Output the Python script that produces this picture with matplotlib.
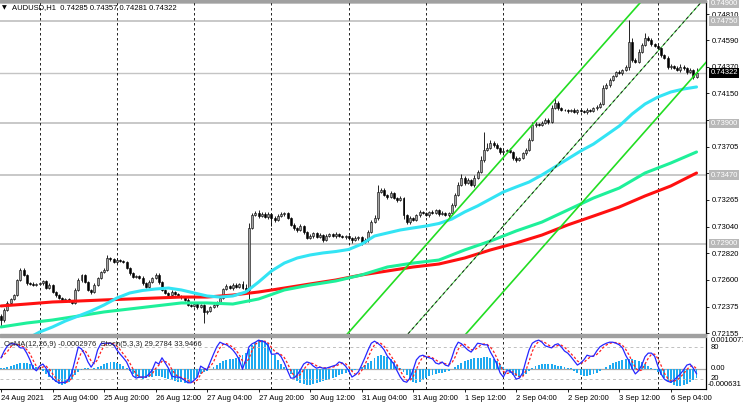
import matplotlib
matplotlib.use('Agg')
import matplotlib.pyplot as plt
import numpy as np
import pandas as pd
from matplotlib.patches import Rectangle
from matplotlib.transforms import blended_transform_factory
from matplotlib import font_manager as fm

# ---------------- data (prices in 1e-5 units) ----------------
first_open = 72300
closes = [
    72264, 72347, 72406, 72439, 72472, 72597, 72680, 72639, 72572, 72564,
    72555, 72564, 72572, 72589, 72530, 72555, 72497, 72472, 72447, 72431,
    72439, 72422, 72406, 72514, 72597, 72639, 72580, 72514, 72497, 72555,
    72614, 72663, 72680, 72780, 72772, 72747, 72763, 72755, 72747, 72697,
    72655, 72622, 72630, 72614, 72572, 72539, 72580, 72614, 72639, 72580,
    72514, 72489, 72472, 72497, 72480, 72464, 72455, 72431, 72389, 72381,
    72397, 72372, 72389, 72331, 72339, 72372, 72389, 72406, 72447, 72522,
    72547, 72530, 72555, 72539, 72564, 72530, 72514, 73030, 73138, 73154,
    73129, 73146, 73121, 73146, 73113, 73096, 73129, 73146, 73154, 73113,
    73055, 73030, 73013, 73046, 72996, 72946, 72963, 72988, 72955, 72971,
    72930, 72963, 72980, 72963, 72980, 72963, 72955, 72963, 72946, 72930,
    72946, 72955, 72913, 72930, 72996, 73079, 73113, 73329, 73346, 73304,
    73287, 73321, 73279, 73263, 73279, 73138, 73079, 73113, 73096, 73138,
    73163, 73154, 73138, 73163, 73154, 73179, 73146, 73154, 73138, 73154,
    73221, 73304, 73387, 73446, 73404, 73429, 73387, 73446, 73495, 73595,
    73679, 73695, 73737, 73720, 73695, 73662, 73670, 73679, 73662, 73612,
    73595, 73612, 73654, 73679, 73762, 73887, 73895, 73887, 73903, 73928,
    73911, 74028, 74070, 74028, 74011, 74011, 74003, 74011, 73995, 74011,
    74003, 73995, 74011, 74003, 74028, 74036, 74061, 74194, 74219, 74261,
    74294, 74327, 74319, 74344, 74369, 74577, 74427, 74411, 74494, 74552,
    74610, 74594, 74560, 74544, 74527, 74469, 74444, 74369, 74377, 74361,
    74344, 74369, 74361, 74327, 74344, 74285, 74322,
]
wick_up = [
    10, 20, 15, 10, 12, 8, 15, 20, 10, 12, 15, 10, 8, 12, 10, 15, 10, 8, 10, 12,
    10, 8, 10, 15, 20, 10, 8, 12, 10, 15, 12, 10, 15, 25, 12, 10, 15, 10, 12, 8,
    10, 12, 8, 10, 15, 12, 20, 10, 15, 12, 10, 8, 10, 15, 12, 10, 8, 10, 12, 10,
    15, 10, 12, 10, 8, 10, 12, 15, 20, 12, 15, 10, 20, 15, 12, 25, 30, 40, 20, 15,
    25, 15, 20, 18, 10, 15, 20, 15, 12, 10, 8, 12, 10, 15, 10, 12, 15, 10, 12, 15,
    10, 15, 12, 10, 15, 12, 10, 8, 12, 10, 15, 10, 12, 20, 15, 20, 25, 58, 20, 15,
    12, 15, 10, 12, 20, 10, 12, 15, 10, 12, 15, 10, 12, 10, 15, 12, 10, 15, 12, 10,
    15, 20, 25, 30, 15, 20, 12, 25, 20, 30, 150, 40, 25, 20, 15, 12, 15, 10, 12, 10,
    15, 12, 10, 15, 20, 25, 15, 12, 18, 15, 20, 25, 40, 15, 12, 10, 12, 10, 15, 12,
    10, 12, 15, 10, 12, 15, 20, 25, 20, 15, 12, 10, 15, 12, 20, 185, 30, 20, 25, 20,
    40, 20, 15, 12, 15, 10, 12, 15, 20, 12, 15, 25, 15, 12, 20, 10, 35,
]
wick_dn = [
    60, 15, 10, 12, 10, 8, 10, 12, 15, 10, 8, 12, 10, 15, 10, 12, 10, 15, 10, 12,
    15, 10, 12, 10, 8, 15, 12, 10, 15, 10, 12, 8, 10, 12, 15, 10, 12, 8, 10, 12,
    15, 10, 12, 10, 15, 12, 10, 8, 12, 15, 10, 12, 10, 15, 12, 10, 15, 12, 10, 12,
    10, 15, 12, 90, 15, 12, 10, 15, 12, 10, 12, 10, 15, 12, 10, 12, 15, 100, 12, 10,
    15, 10, 12, 15, 65, 15, 10, 12, 15, 10, 12, 15, 20, 12, 15, 10, 12, 15, 10, 12,
    15, 10, 12, 10, 15, 12, 10, 15, 12, 25, 10, 15, 25, 12, 15, 10, 12, 15, 12, 10,
    15, 12, 10, 15, 12, 30, 20, 15, 12, 10, 15, 12, 10, 15, 12, 10, 15, 12, 10, 15,
    12, 15, 10, 12, 15, 10, 12, 15, 10, 12, 15, 12, 10, 15, 12, 20, 15, 12, 10, 15,
    20, 12, 10, 15, 12, 10, 15, 12, 10, 12, 15, 10, 12, 15, 12, 10, 15, 10, 12, 15,
    12, 10, 15, 12, 10, 15, 12, 10, 12, 15, 10, 12, 10, 15, 12, 25, 15, 12, 10, 12,
    10, 12, 15, 12, 10, 15, 12, 20, 15, 12, 10, 15, 20, 15, 12, 15, 4,
]

# fast moving average (cyan), sampled every 4 bars (1e-5 units)
cyan_idx = list(range(0, 217, 4))
ma_cyan = [71998, 72056, 72106, 72164, 72206, 72256, 72297, 72339, 72389, 72447,
           72489, 72510, 72522, 72530, 72514, 72489, 72464, 72455, 72464, 72497,
           72580, 72672, 72738, 72780, 72805, 72822, 72834, 72851, 72896, 72963,
           72988, 73013, 73030, 73046, 73067, 73104, 73163, 73213, 73271, 73329,
           73371, 73412, 73471, 73537, 73604, 73670, 73728, 73803, 73878, 73978,
           74061, 74119, 74161, 74186, 74203]
# slower moving averages, sampled every 8 bars (1e-5 units)
ma_idx = list(range(0, 217, 8))
ma_green = [72206, 72239, 72264, 72297, 72331, 72356, 72381, 72406, 72406, 72397,
            72439, 72514, 72555, 72589, 72639, 72705, 72738, 72763, 72847, 72921,
            73005, 73079, 73179, 73279, 73362, 73487, 73570, 73662]
ma_red = [72381, 72397, 72414, 72422, 72431, 72439, 72447, 72455, 72455, 72472,
          72497, 72530, 72564, 72597, 72639, 72672, 72705, 72730, 72780, 72847,
          72905, 72971, 73055, 73129, 73204, 73296, 73379, 73487]

# regression channel end points (bar index, price 1e-5)
chan_idx = [100, 219]
chan_upper = [71919, 75525]
chan_mid = [71349, 74955]
chan_lower = [70803, 74409]

levels = [0.74900, 0.74750, 0.73900, 0.73470, 0.72900]
last_price = 0.74322
price_ticks = [0.74810, 0.74590, 0.74370, 0.74150, 0.73930, 0.73705, 0.73485,
               0.73265, 0.73040, 0.72820, 0.72600, 0.72375, 0.72155]
hidden_ticks = [0.73930, 0.73485]   # covered by level boxes in the reference

# OsMA histogram (1e-5 units)
osma = [3, 3, 6, 9, 13, 16, 19, 19, 19, 16, 13, 6, 0,
        -6, -16, -25, -35, -41, -47, -50, -47, -41, -32, -19, -9,
        -3, 3, 3, 0, 3, 6, 9, 16, 19, 22, 22, 19, 16, 9, 3,
        -6, -16, -25, -28, -32, -28, -25, -25,
        -22, -22, -25, -28, -32, -35, -38, -41, -41, -44, -44, -41, -35,
        -25, -16, -9, -6, 0,
        6, 13, 19, 25, 28, 32, 32, 35, 38, 44, 50, 63,
        76, 85, 91, 91, 88, 82, 63, 44, 28, 16, 6, -3,
        -16, -28, -38, -44, -47, -50, -50,
        -47, -44, -41, -38, -35, -32, -28, -25,
        -19, -16, -13, -9, -6, -3, 0,
        6, 13, 19, 25, 35, 41, 44, 41, 38, 32, 22, 13, 3,
        -9, -19, -32, -41, -44, -41, -35,
        -28, -22, -19, -16, -13, -13, -9, -6,
        0, 6, 13, 19, 25, 28, 32, 35, 35, 35, 38, 38, 35, 32, 25,
        16, 6, -3, -13, -19, -22, -25, -22, -16,
        -6, 3, 9, 13, 16, 16, 16, 16, 13, 9, 9, 6, 3, 3,
        -6, -13, -19, -22, -22, -19, -16, -13, -6, 0, 6, 13, 19,
        22, 25, 28, 32, 32, 32, 28, 25, 22, 16, 9, 3,
        -3, -9,
        -19, -28, -38, -44, -50, -54, -54, -50, -47, -41, -35, -29.76]

# Stochastic main line
stoch = [60, 73, 83, 87, 87, 85, 79, 79, 69, 56,
         40, 35, 44, 48, 40, 27, 21, 15, 12, 12,
         13, 19, 31, 56, 81, 77, 67, 52, 42, 52,
         75, 87, 88, 88, 88, 85, 75, 67, 60, 52,
         38, 25, 21, 23, 23, 23, 29, 37, 52, 48,
         60, 50, 40, 25, 23, 23, 21, 17, 12, 12,
         17, 23, 44, 40, 37, 52, 67, 81, 90, 87,
         85, 81, 75, 67, 56, 38, 56, 81, 87, 90,
         94, 92, 90, 83, 67, 67, 69, 62, 50, 35,
         21, 21, 27, 37, 48, 52, 50, 44, 40, 42,
         40, 40, 42, 44, 46, 52, 50, 44, 35, 23,
         27, 33, 46, 60, 75, 88, 92, 88, 83, 75,
         63, 56, 48, 35, 23, 15, 13, 21, 37, 56,
         63, 65, 62, 60, 58, 50, 48, 52, 46, 44,
         60, 79, 90, 87, 81, 75, 71, 79, 88, 87,
         85, 85, 71, 60, 48, 31, 23, 35, 35, 29,
         19, 21, 31, 54, 75, 88, 92, 94, 90, 83,
         81, 79, 85, 87, 81, 73, 69, 62, 54, 46,
         50, 56, 65, 63, 63, 73, 81, 85, 88, 90,
         90, 88, 85, 79, 65, 54, 40, 29, 35, 46,
         62, 69, 69, 63, 44, 29, 19, 15, 13, 17,
         23, 29, 37, 46, 48, 40, 29.28]

date_ticks = list(range(0, 217, 16))
date_labels = ['24 Aug 2021', '25 Aug 04:00', '25 Aug 20:00', '26 Aug 12:00',
               '27 Aug 04:00', '27 Aug 20:00', '30 Aug 12:00', '31 Aug 04:00',
               '31 Aug 20:00', '1 Sep 12:00', '2 Sep 04:00', '2 Sep 20:00',
               '3 Sep 12:00', '6 Sep 04:00']
day_starts = [12, 36, 60, 84, 108, 132, 156, 180, 204]

# ---------------- style ----------------
names = {f.name for f in fm.fontManager.ttflist}
if 'Liberation Sans Narrow' in names:
    FONT, FS = 'Liberation Sans Narrow', 6.4
else:
    FONT, FS = 'Liberation Sans', 5.5
plt.rcParams['font.family'] = [FONT, 'DejaVu Sans']

W, H, DPI = 743, 407, 100
fig = plt.figure(figsize=(W / DPI, H / DPI), dpi=DPI)
fig.patch.set_facecolor('white')


def px_axes(x0, y0, x1, y1):
    return fig.add_axes([x0 / W, 1 - y1 / H, (x1 - x0) / W, (y1 - y0) / H])


XR = 706
PXB = 3.22
X0 = -1 / PXB
X1 = X0 + XR / PXB

ax = px_axes(0, 1, XR, 335)
sub = px_axes(0, 337, XR, 389)

n = len(closes)
idx = np.arange(n)
c = np.array(closes) / 1e5
o = np.r_[first_open / 1e5, c[:-1]]
hi = np.maximum(o, c) + np.array(wick_up) / 1e5
lo = np.minimum(o, c) - np.array(wick_dn) / 1e5
body_lo = np.minimum(o, c)
body_h = np.maximum(np.abs(c - o), 0.00003)
cols = np.where(c >= o, '#a4a4a4', '#000000')

ax.set_xlim(X0, X1)
ax.set_ylim(0.721393, 0.749182)

for lv in levels:
    ax.axhline(lv, color='#c4c4c4', lw=1.3, zorder=1)
ax.axhline(last_price, color='#c4c4c4', lw=1.0, zorder=1)

for d in day_starts:
    ax.axvline(d, color='black', lw=0.6, ls=(0, (3, 3)), zorder=1.5)
    sub.axvline(d, color='black', lw=0.6, ls=(0, (3, 3)), zorder=1.5)

ax.vlines(idx, lo, hi, color='black', lw=0.6, zorder=3)
ax.bar(idx, body_h, bottom=body_lo, width=0.62, color=cols, edgecolor='black',
       linewidth=0.4, zorder=4)

line_kw = dict(lw=2.2, zorder=5, solid_joinstyle='round', solid_capstyle='round')
ax.plot(ma_idx, np.array(ma_red) / 1e5, color='#ff1010', **line_kw)
ax.plot(ma_idx, np.array(ma_green) / 1e5, color='#1ef09a', **line_kw)
ax.plot(cyan_idx, np.array(ma_cyan) / 1e5, color='#33e4f4', **line_kw)

ax.plot(chan_idx, np.array(chan_upper) / 1e5, color='#22dd22', lw=1.2, zorder=6)
ax.plot(chan_idx, np.array(chan_lower) / 1e5, color='#22dd22', lw=1.2, zorder=6)
ax.plot(chan_idx, np.array(chan_mid) / 1e5, color='#44cc44', lw=0.7, zorder=6)
ax.plot(chan_idx, np.array(chan_mid) / 1e5, color='#202020', lw=0.7, zorder=6,
        ls=(0, (3, 3)))

for s in ['top', 'left', 'bottom']:
    ax.spines[s].set_visible(False)
ax.spines['right'].set_linewidth(0.9)
ax.yaxis.tick_right()
ax.set_yticks(price_ticks)
ax.set_yticklabels(['' if v in hidden_ticks else f'{v:.5f}' for v in price_ticks])
ax.tick_params(axis='y', direction='out', length=2.5, width=0.6, pad=1.8,
               labelsize=FS)
ax.tick_params(axis='x', bottom=False, labelbottom=False)

trans = blended_transform_factory(ax.transAxes, ax.transData)
xl = 1 + 4.5 / XR
for lv in levels:
    ax.text(xl, lv, f'{lv:.5f}', transform=trans, fontsize=FS, color='white',
            va='center', ha='left', clip_on=False, zorder=20,
            bbox=dict(boxstyle='square,pad=0.18', fc='#b8b8b8', ec='none'))
ax.text(xl, last_price, f'{last_price:.5f}', transform=trans, fontsize=FS,
        color='white', va='center', ha='left', clip_on=False, zorder=21,
        bbox=dict(boxstyle='square,pad=0.18', fc='black', ec='none'))

# ---------------- sub window ----------------
sub.set_xlim(X0, X1)
sub.set_ylim(-0.000631, 0.0010077)
sub.bar(idx, np.array(osma) / 1e5, width=0.6, color='#1eaaf0', zorder=2)
sub.axhline(0, color='#a8a8a8', lw=0.9, zorder=1)
for s in ['top', 'left']:
    sub.spines[s].set_visible(False)
sub.spines['right'].set_linewidth(0.9)
sub.spines['bottom'].set_linewidth(0.8)
sub.set_yticks([])
sub.set_xticks(date_ticks)
sub.set_xticklabels(date_labels)
sub.tick_params(axis='x', direction='out', length=2.5, width=0.6, pad=1.6,
                labelsize=FS)
for t in sub.get_xticklabels():
    t.set_ha('left')

st = sub.twinx()
st.set_ylim(0, 100)
st.set_xlim(X0, X1)
st.axhline(80, color='#c0c0c0', lw=0.7, ls=(0, (3, 3)), zorder=1)
st.axhline(20, color='#c0c0c0', lw=0.7, ls=(0, (3, 3)), zorder=1)
stoch_s = pd.Series(stoch, dtype=float)
signal = stoch_s.rolling(3, min_periods=1).mean()
st.plot(idx, signal.values, color='#ff2020', lw=0.9, ls=(0, (2, 1.6)), zorder=3)
st.plot(idx, stoch_s.values, color='#2626ff', lw=0.9, zorder=4)
st.set_yticks([])
for s in st.spines.values():
    s.set_visible(False)

# ---------------- frame decorations ----------------
fig.patches.append(Rectangle((0, 1 - 337 / H), XR / W, 3 / H,
                             transform=fig.transFigure, color='#a0a0a0', zorder=30))
fig.patches.append(Rectangle((0, 1 - 2 / H), XR / W, 2 / H,
                             transform=fig.transFigure, color='#a0a0a0', zorder=30))


def ftext(xp, yp, s, **kw):
    kw.setdefault('fontsize', FS)
    fig.text(xp / W, 1 - yp / H, s, va='center', ha='left', **kw)


ftext(2, 8, '▼', family='DejaVu Sans', fontsize=4.5)
ftext(12, 8, 'AUDUSD,H1  0.74285 0.74357 0.74281 0.74322')
ftext(4, 344, 'OsMA(12,26,9) -0.0002976  Stoch(5,3,3) 29.2784 33.9466',
      color='#222222')
ftext(711, 340.5, '0.0010077')
ftext(711, 347.5, '80')
ftext(711, 369, '0.00')
ftext(711, 378.5, '20')
ftext(708, 384.5, '-0.000631')

fig.savefig('out.png', dpi=DPI, facecolor='white')
